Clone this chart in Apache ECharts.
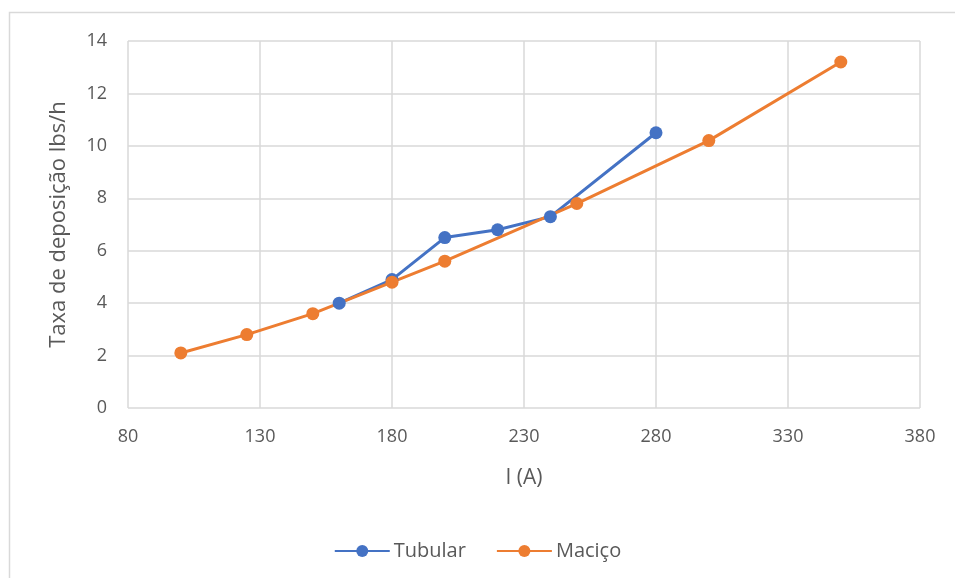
<!DOCTYPE html>
<html>
<head>
<meta charset="utf-8">
<script src="https://cdn.jsdelivr.net/npm/echarts@6/dist/echarts.min.js"></script>
<style>
html,body{margin:0;padding:0;background:#fff;}
#c{width:955px;height:578px;}
</style>
</head>
<body>
<div id="c"></div>
<script>
const tubularX = [160, 180, 200, 220, 240, 280];
const tubularY = [4.0, 4.9, 6.5, 6.8, 7.3, 10.5];
const macicoX = [100, 125, 150, 180, 200, 250, 300, 350];
const macicoY = [2.1, 2.8, 3.6, 4.8, 5.6, 7.8, 10.2, 13.2];
const seriesNames = ['Tubular', 'Maciço'];
const xAxisName = 'I (A)';
const yAxisName = 'Taxa de deposição lbs/h';

const font = "'Open Sans', 'Noto Sans', sans-serif";
const chart = echarts.init(document.getElementById('c'), null, {renderer: 'canvas'});
const pair = (xs, ys) => xs.map((x, i) => [x, ys[i]]);

chart.setOption({
  animation: false,
  backgroundColor: '#fff',
  graphic: [{
    type: 'rect',
    shape: {x: 9.5, y: 12.5, width: 960, height: 600},
    style: {fill: 'none', stroke: '#d9d9d9', lineWidth: 1.5},
    silent: true
  }],
  grid: {left: 128, top: 41, width: 792, height: 367, containLabel: false},
  legend: {
    bottom: 12,
    left: 'center',
    itemWidth: 55,
    itemHeight: 15,
    itemGap: 30,
    textStyle: {fontFamily: font, fontSize: 20, color: '#595959', padding: [0, 0, 0, -1]},
    data: seriesNames
  },
  xAxis: {
    type: 'value',
    min: 80, max: 380, interval: 50,
    name: xAxisName,
    nameLocation: 'middle',
    nameGap: 60,
    nameTextStyle: {fontFamily: font, fontSize: 21, color: '#595959'},
    axisLine: {show: false},
    axisTick: {show: false},
    axisLabel: {fontFamily: font, fontSize: 18, color: '#595959', margin: 20},
    splitLine: {show: true, lineStyle: {color: '#d9d9d9', width: 1.5}}
  },
  yAxis: {
    type: 'value',
    min: 0, max: 14, interval: 2,
    name: yAxisName,
    nameLocation: 'middle',
    nameGap: 58,
    nameRotate: 90,
    nameTextStyle: {fontFamily: font, fontSize: 22, color: '#595959'},
    axisLine: {show: false},
    axisTick: {show: false},
    axisLabel: {fontFamily: font, fontSize: 18, color: '#595959', margin: 21},
    splitLine: {show: true, lineStyle: {color: '#d9d9d9', width: 1.5}}
  },
  series: [
    {
      name: seriesNames[0],
      type: 'line',
      data: pair(tubularX, tubularY),
      symbol: 'circle',
      symbolSize: 13,
      lineStyle: {color: '#4472C4', width: 3},
      itemStyle: {color: '#4472C4'}
    },
    {
      name: seriesNames[1],
      type: 'line',
      data: pair(macicoX, macicoY),
      symbol: 'circle',
      symbolSize: 13,
      lineStyle: {color: '#ED7D31', width: 3},
      itemStyle: {color: '#ED7D31'}
    }
  ]
});
</script>
</body>
</html>
